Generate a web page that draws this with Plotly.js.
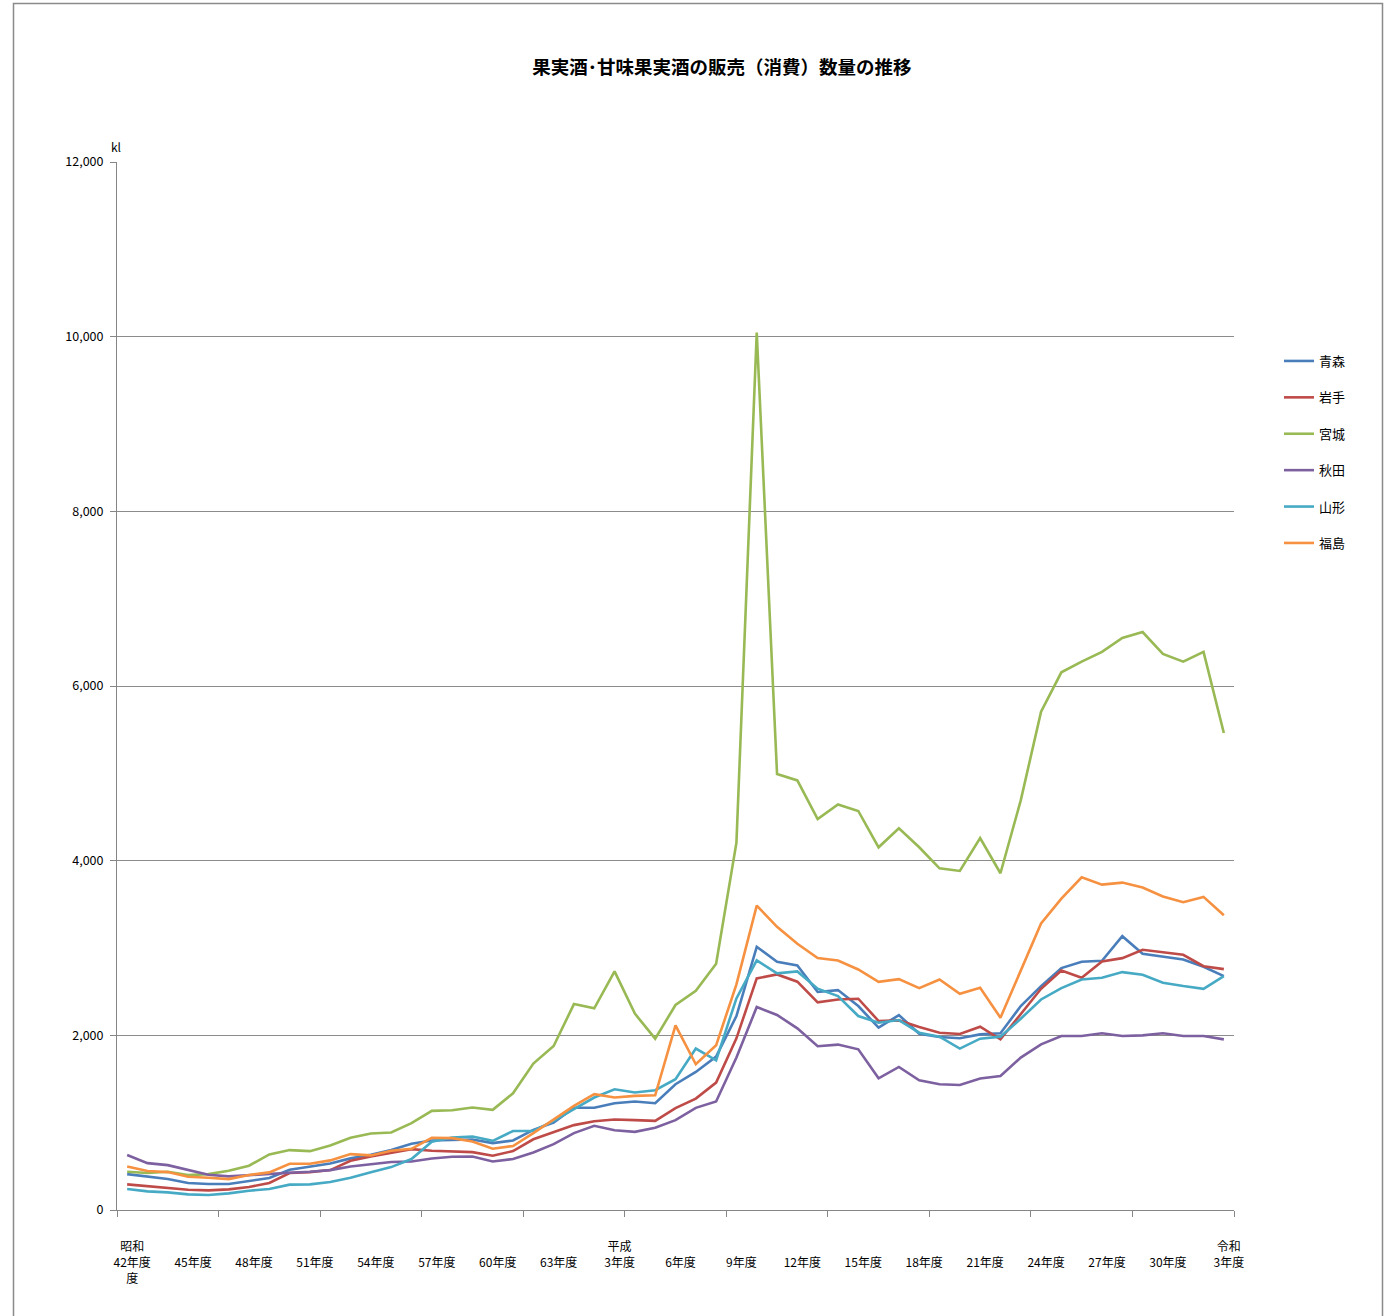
<!DOCTYPE html>
<html>
<head>
<meta charset="utf-8">
<script src="https://cdn.plot.ly/plotly-3.0.1.min.js"></script>
<style>
html,body{margin:0;padding:0;background:#fff;}
#chart{width:1387px;height:1316px;}
</style>
</head>
<body>
<div id="chart"></div>
<script>
// 昭和42年度(1967) .. 令和3年度(2021)
const years = ["昭和42年度","43年度","44年度","45年度","46年度","47年度","48年度","49年度","50年度","51年度",
"52年度","53年度","54年度","55年度","56年度","57年度","58年度","59年度","60年度","61年度",
"62年度","63年度","平成元年度","2年度","平成3年度","4年度","5年度","6年度","7年度","8年度",
"9年度","10年度","11年度","12年度","13年度","14年度","15年度","16年度","17年度","18年度",
"19年度","20年度","21年度","22年度","23年度","24年度","25年度","26年度","27年度","28年度",
"29年度","30年度","令和元年度","2年度","令和3年度"];

const tickIndex = [0,3,6,9,12,15,18,21,24,27,30,33,36,39,42,45,48,51,54];
const tickLabels = ["昭和<br>42年度<br>度"," <br>45年度"," <br>48年度"," <br>51年度"," <br>54年度"," <br>57年度"," <br>60年度"," <br>63年度",
"平成<br>3年度"," <br>6年度"," <br>9年度"," <br>12年度"," <br>15年度"," <br>18年度"," <br>21年度"," <br>24年度"," <br>27年度"," <br>30年度","令和<br>3年度"];

const aomori = [411,381,354,309,297,297,328,366,461,499,533,591,632,686,758,796,800,808,766,
796,918,1002,1170,1170,1223,1242,1223,1440,1581,1756,2221,3014,2842,2800,2497,2518,
2335,2088,2232,2019,1981,1966,2011,2023,2335,2564,2770,2842,2853,3135,2933,2899,2869,2785,2678];

const iwate = [293,274,255,232,225,236,263,309,423,434,457,564,613,652,697,678,667,663,621,
675,810,888,972,1017,1036,1029,1021,1166,1276,1459,1966,2652,2697,2614,2377,2411,
2419,2164,2171,2095,2030,2015,2099,1954,2248,2533,2743,2659,2846,2884,2979,2953,2922,2792,2758];

const miyagi = [438,423,438,400,411,450,507,636,686,674,739,827,876,888,994,1135,1143,1173,1147,
1337,1676,1878,2358,2309,2732,2248,1962,2347,2511,2819,4206,10048,4993,4919,4477,4643,
4569,4153,4372,4153,3912,3882,4258,3856,4690,5707,6157,6279,6390,6550,6618,6367,6279,6390,5462];

const akita = [629,537,514,457,404,385,400,419,427,438,457,499,526,549,556,590,610,613,556,
583,659,754,880,964,914,895,941,1029,1170,1242,1745,2324,2233,2080,1875,1894,
1840,1508,1638,1486,1440,1432,1505,1535,1745,1897,1992,1992,2023,1992,2000,2023,1992,1992,1954];

const yamagata = [240,213,202,179,171,190,221,240,290,293,320,370,431,491,583,781,831,842,792,
905,905,1021,1154,1288,1383,1345,1372,1497,1848,1714,2423,2858,2709,2732,2534,2450,
2221,2145,2175,2030,1985,1848,1962,1985,2190,2411,2541,2640,2659,2724,2693,2602,2564,2533,2678];

const fukushima = [499,446,434,381,370,354,400,431,530,530,568,640,625,678,701,827,823,785,701,
733,880,1040,1193,1326,1288,1307,1314,2115,1669,1886,2583,3486,3242,3048,2886,2857,
2754,2613,2644,2541,2640,2476,2545,2202,2743,3280,3566,3810,3726,3749,3692,3589,3524,3585,3375];

const seriesNames = ["青森","岩手","宮城","秋田","山形","福島"];
const seriesData = [aomori, iwate, miyagi, akita, yamagata, fukushima];
const seriesColors = ["#4A7EBB","#BE4B48","#98B954","#7D60A0","#46AAC5","#F59140"];

const xIdx = years.map((_, i) => i);
const traces = seriesNames.map((n, k) => ({
  type: "scatter", mode: "lines", name: n,
  x: xIdx, y: seriesData[k], text: years,
  legendgroup: "g" + k,
  line: {color: seriesColors[k], width: 2.6},
  hovertemplate: "%{text}: %{y:,}<extra>" + n + "</extra>"
}));

const minorTicks = [];
for (let v = -0.5; v <= years.length - 0.5 + 1e-9; v += 5) minorTicks.push(v);

const W = 1387, H = 1316;
const L = 117, R = 153, T = 162, B = 106;
const pw = W - L - R, ph = H - T - B;
const px = v => (v - L) / pw;
const py = v => (H - B - v) / ph;

const font = "'Noto Sans CJK JP', 'Noto Sans', sans-serif";

const layout = {
  width: W, height: H,
  margin: {l: L, r: R, t: T, b: B},
  paper_bgcolor: "#fff", plot_bgcolor: "#fff",
  font: {family: font, size: 12, color: "#000"},
  title: {text: "<b>果実酒･甘味果実酒の販売（消費）数量の推移</b>",
          font: {family: font, size: 18.5, color: "#000"},
          x: 722 / W, xref: "container", xanchor: "center",
          y: 1 - 68 / H, yref: "container", yanchor: "middle"},
  showlegend: true,
  legend: {x: px(1279), y: py(346), xanchor: "left", yanchor: "top",
           font: {family: font, size: 13, color: "#000"},
           traceorder: "grouped", tracegroupgap: 16.5, itemwidth: 30,
           bgcolor: "rgba(0,0,0,0)"},
  xaxis: {
    type: "linear", range: [-0.5, years.length - 0.5],
    tickmode: "array", tickvals: tickIndex, ticktext: tickLabels,
    ticks: "", showgrid: false, zeroline: false,
    showline: true, linecolor: "#868686", linewidth: 1,
    tickfont: {family: font, size: 12, color: "#000"},
    ticklabelstandoff: 26, ticklabelshift: 5,
    minor: {tickmode: "array", tickvals: minorTicks, ticks: "outside", ticklen: 6, tickcolor: "#868686", showgrid: false},
    fixedrange: true
  },
  yaxis: {
    range: [0, 12000], tickmode: "linear", tick0: 0, dtick: 2000,
    tickformat: ",d", ticks: "outside", ticklen: 6, tickcolor: "#868686",
    showgrid: true, gridcolor: "#8C8C8C", gridwidth: 1,
    zeroline: false, showline: true, linecolor: "#868686", linewidth: 1,
    tickfont: {family: font, size: 12.5, color: "#000"},
    ticklabelstandoff: 4,
    fixedrange: true
  },
  annotations: [{
    text: "kl", xref: "paper", yref: "paper", x: px(109), y: py(147),
    xanchor: "left", yanchor: "middle", showarrow: false,
    font: {family: font, size: 12, color: "#000"}
  }],
  shapes: [{
    type: "rect", xref: "paper", yref: "paper",
    x0: px(13.5), x1: px(1382.5), y0: py(1330), y1: py(3.5),
    line: {color: "#8A8A8A", width: 1.5}, fillcolor: "rgba(0,0,0,0)", layer: "below"
  }]
};

Plotly.newPlot("chart", traces, layout, {displayModeBar: false, staticPlot: false});
</script>
</body>
</html>
